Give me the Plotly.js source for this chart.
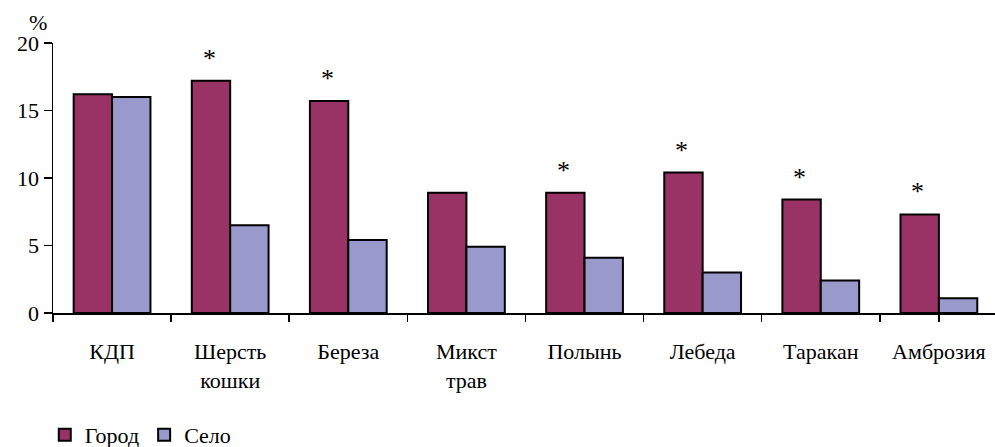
<!DOCTYPE html>
<html>
<head>
<meta charset="utf-8">
<script src="https://cdn.plot.ly/plotly-3.0.1.min.js"></script>
<style>html,body{margin:0;padding:0;background:#fff;overflow:hidden}</style>
</head>
<body>
<div id="chart" style="width:995px;height:447px"></div>
<script>
const categories = ['КДП', 'Шерсть<br>кошки', 'Береза', 'Микст<br>трав', 'Полынь', 'Лебеда', 'Таракан', 'Амброзия'];
const gorod = [16.2, 17.2, 15.7, 8.9, 8.9, 10.4, 8.4, 7.3];
const selo = [16.0, 6.5, 5.4, 4.9, 4.1, 3.0, 2.4, 1.1];
const stars = ['', '*', '*', '', '*', '*', '*', '*'];
const yTicks = [0, 5, 10, 15, 20];

const idx = categories.map((c, i) => i);
const fontFam = 'Times New Roman, DejaVu Serif, serif';

const traces = [
  {type: 'bar', name: 'Город', x: idx, y: gorod,
   marker: {color: '#993366', line: {color: '#000', width: 2}}},
  {type: 'bar', name: 'Село', x: idx, y: selo,
   marker: {color: '#9999CC', line: {color: '#000', width: 2}}}
];

const annotations = stars.map((s, i) => ({
  x: i, y: gorod[i], xref: 'x', yref: 'y', text: s, showarrow: false,
  xanchor: 'center', yanchor: 'bottom', xshift: -21, yshift: 6,
  font: {family: fontFam, size: 26, color: '#000'}
})).filter(a => a.text);
annotations.push({
  xref: 'paper', yref: 'paper', x: -0.004, y: 1.0, xanchor: 'right', yanchor: 'bottom',
  yshift: 6, text: '%', showarrow: false, font: {family: fontFam, size: 22, color: '#000'}
});

const layout = {
  width: 995, height: 447,
  margin: {l: 53, r: 0, t: 43, b: 134},
  paper_bgcolor: '#fff', plot_bgcolor: '#fff',
  font: {family: fontFam, size: 22, color: '#000'},
  barmode: 'group', bargap: 0.35, bargroupgap: 0,
  showlegend: true,
  legend: {orientation: 'h', xref: 'container', yref: 'container', x: 0.045, y: 0.027,
           xanchor: 'left', yanchor: 'middle',
           font: {family: fontFam, size: 22, color: '#000'}, itemwidth: 30, tracegroupgap: 0},
  xaxis: {
    type: 'linear', range: [-0.5, 7.475], tickmode: 'array',
    tickvals: idx, ticktext: categories, ticks: '', showline: true, linecolor: '#000', linewidth: 1.5,
    showgrid: false, zeroline: false, ticklabelstandoff: 18, fixedrange: true
  },
  xaxis2: {
    overlaying: 'x', range: [-0.5, 7.475], tickmode: 'array',
    tickvals: idx.concat([7.5]).map(v => v - 0.5), ticktext: idx.concat([7.5]).map(() => ''),
    ticks: 'outside', ticklen: 8, tickwidth: 1.5, tickcolor: '#000', showline: false,
    showgrid: false, zeroline: false, anchor: 'y', side: 'bottom', showticklabels: false
  },
  yaxis: {
    range: [0, 20], tickmode: 'array', tickvals: yTicks, ticktext: yTicks.map(String),
    ticks: 'outside', ticklen: 8, tickwidth: 1.5, tickcolor: '#000',
    showline: true, linecolor: '#000', linewidth: 1.5, showgrid: false, zeroline: false
  },
  annotations: annotations
};

traces.push({type: 'scatter', x: [0], y: [0], xaxis: 'x2', yaxis: 'y', mode: 'none',
  showlegend: false, hoverinfo: 'skip'});

Plotly.newPlot('chart', traces, layout, {displayModeBar: false, staticPlot: true});
</script>
</body>
</html>
